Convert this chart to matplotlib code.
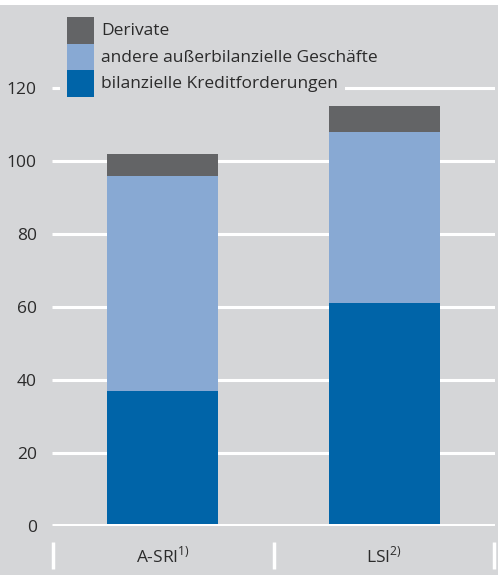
import matplotlib
matplotlib.use("Agg")
import matplotlib.pyplot as plt
from matplotlib.patches import Rectangle
from matplotlib.transforms import blended_transform_factory

plt.rcParams["font.family"] = ["Open Sans", "DejaVu Sans"]
plt.rcParams["mathtext.fontset"] = "custom"
plt.rcParams["mathtext.rm"] = "Open Sans"

categories = ["A-SRI$^{\\mathrm{1)}}$", "LSI$^{\\mathrm{2)}}$"]
bilanziell = [37, 61]
ausserbilanziell = [59, 47]
derivate = [6, 7]
series_labels = ["Derivate", "andere außerbilanzielle Geschäfte", "bilanzielle Kreditforderungen"]
yticks = [0, 20, 40, 60, 80, 100, 120]

BG = "#d5d6d8"
C_DARK = "#0064a8"
C_LIGHT = "#88a9d3"
C_GREY = "#636466"
TXT = "#2b2b2b"
FS = 12.5

W, H = 498, 575
fig = plt.figure(figsize=(W / 100, H / 100), dpi=100, facecolor=BG)
# white strip at the top
fig.patches.append(Rectangle((0, 1 - 5 / H), 1, 5 / H, transform=fig.transFigure,
                             facecolor="white", edgecolor="none"))

ymax = 142
px_per_unit = 438 / 120
ax = fig.add_axes([52 / W, 49 / H, 443 / W, ymax * px_per_unit / H])
ax.set_facecolor(BG)
for s in ax.spines.values():
    s.set_visible(False)

x = [0.5, 1.5]
bottom2 = [a + b for a, b in zip(bilanziell, ausserbilanziell)]
ax.bar(x, bilanziell, width=0.5, color=C_DARK, zorder=3)
ax.bar(x, ausserbilanziell, width=0.5, bottom=bilanziell, color=C_LIGHT, zorder=3)
ax.bar(x, derivate, width=0.5, bottom=bottom2, color=C_GREY, zorder=3)

ax.set_xlim(0, 2)
ax.set_ylim(0, ymax)
ax.set_yticks(yticks)
ax.set_yticklabels([str(v) for v in yticks], fontsize=FS, color=TXT)
ax.tick_params(axis="y", length=0, pad=11)
ax.set_xticks([])
for v in yticks:
    ax.axhline(v, color="white", lw=3.6 if v == 0 else 2.2, zorder=1 if v else 4,
               solid_capstyle="butt")

# category separators and labels below the axis
tr = blended_transform_factory(ax.transData, fig.transFigure)
for xs in [0.005, 1, 1.995]:
    ax.plot([xs, xs], [1 - 542 / H, 1 - 569 / H], color="white", lw=2.5,
            transform=tr, clip_on=False, solid_capstyle="butt")
for xc, lab in zip(x, categories):
    t = fig.text(0, 0, lab, fontsize=FS, color=TXT, ha="center", va="center")
    t.set_transform(tr)
    t.set_position((xc, 1 - 556 / H))

# legend drawn by hand: grey backdrop hiding the gridline, stacked squares
fig.patches.append(Rectangle((60 / W, 1 - 100 / H), 285 / W, 86 / H,
                             transform=fig.transFigure, facecolor=BG, edgecolor="none", zorder=5))
leg_colors = [C_GREY, C_LIGHT, C_DARK]
for i, (lab, c) in enumerate(zip(series_labels, leg_colors)):
    top = 17 + i * 26.7
    fig.patches.append(Rectangle((67 / W, 1 - (top + 26.7) / H), 27 / W, 26.7 / H,
                                 transform=fig.transFigure, facecolor=c, edgecolor="none", zorder=6))
    fig.text(101 / W, 1 - (top + 14) / H, lab, fontsize=FS, color=TXT, va="center", zorder=7)

fig.savefig("out.png", dpi=100, facecolor=BG)
